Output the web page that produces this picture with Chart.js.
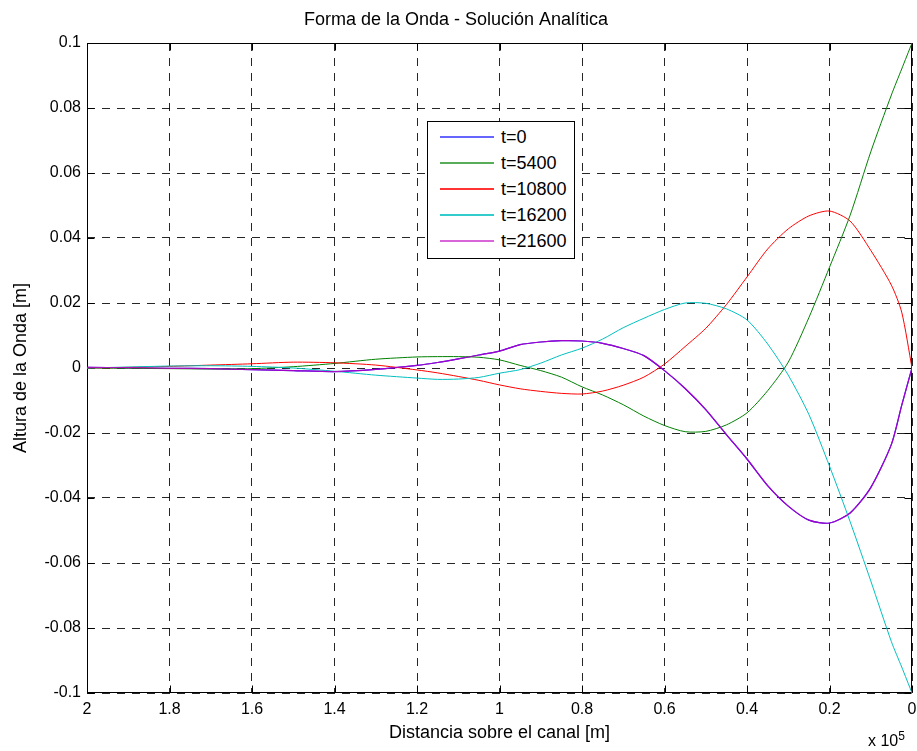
<!DOCTYPE html>
<html>
<head>
<meta charset="utf-8">
<script src="https://cdn.jsdelivr.net/npm/chart.js@4/dist/chart.umd.min.js"></script>
<style>
  body { margin: 0; background: #fff; }
  #wrap { position: relative; width: 917px; height: 751px; font-family: "Liberation Sans", Arial, sans-serif; }
  #legend {
    position: absolute; left: 427px; top: 121px; width: 146px; height: 134px;
    border: 1px solid #000; background: #fff; padding-top: 2px; box-sizing: content-box;
  }
  .row { position: relative; height: 26px; font-size: 18px; }
  .row .swatch { position: absolute; display: block; left: 12px; top: 12px; width: 54px; height: 2px; }
  .row .lbl { position: absolute; left: 73px; top: 2px; line-height: 22px; }
  #scale { position: absolute; left: 868px; top: 732px; font-size: 16px; }
  #scale sup { font-size: 12px; position: relative; top: -3px; vertical-align: top; }
</style>
</head>
<body>
<div id="wrap">
  <canvas id="c" width="917" height="751"></canvas>
  <div id="legend"></div>
  <div id="scale">x 10<sup>5</sup></div>
</div>
<script>
// distancia sobre el canal, en unidades de 10^5 m
const distance = [0, 0.025, 0.05, 0.1, 0.15, 0.2, 0.25, 0.3, 0.35, 0.4, 0.45, 0.5, 0.55, 0.6, 0.65, 0.7, 0.75,
  0.8, 0.85, 0.9, 0.95, 1.0, 1.05, 1.1, 1.15, 1.2, 1.3, 1.4, 1.5, 1.6, 1.7, 1.8, 1.9, 2.0];

// alturas de la onda [m]
const heightT0 = [0, -0.0115, -0.0235, -0.0368, -0.0446, -0.0477, -0.0468, -0.0425, -0.0362, -0.028, -0.0205,
  -0.0128, -0.0063, -0.0008, 0.0038, 0.006, 0.0076, 0.0083, 0.0084, 0.008, 0.0072, 0.0052, 0.004,
  0.0028, 0.0017, 0.0008, -0.0004, -0.0011, -0.0008, -0.0005, -0.0002, -0.0001, 0.0001, 0.0002];
const heightT5400 = [0.1, 0.092, 0.084, 0.0665, 0.047, 0.031, 0.0155, 0.0018, -0.007, -0.0138, -0.0175,
  -0.0195, -0.0196, -0.0177, -0.0148, -0.0113, -0.0083, -0.0058, -0.0028, -0.0008, 0.0008, 0.0025, 0.0033,
  0.0035, 0.0035, 0.0034, 0.0027, 0.0014, 0.0004, -0.0002, -0.0003, -0.0002, -0.0001, 0];
const heightT10800 = [0, 0.0172, 0.0255, 0.0362, 0.0452, 0.0483, 0.0468, 0.0428, 0.0366, 0.028, 0.0195,
  0.0122, 0.0066, 0.0012, -0.0028, -0.0053, -0.0071, -0.008, -0.0078, -0.0072, -0.0064, -0.0052, -0.0038,
  -0.0026, -0.0015, -0.0006, 0.0009, 0.0016, 0.0018, 0.0013, 0.0009, 0.0005, 0.0002, 0];
const heightT16200 = [-0.1, -0.092, -0.0842, -0.0655, -0.0473, -0.0302, -0.0143, -0.0022, 0.0074, 0.0148, 0.0182,
  0.0199, 0.02, 0.018, 0.0153, 0.0124, 0.0089, 0.0061, 0.004, 0.0015, -0.0005, -0.0016, -0.0029,
  -0.0034, -0.0035, -0.0031, -0.0022, -0.001, 0, 0.0005, 0.0007, 0.0006, 0.0003, 0];
const heightT21600 = [0, -0.0115, -0.0235, -0.0368, -0.0446, -0.0477, -0.0468, -0.0425, -0.0362, -0.028, -0.0205,
  -0.0128, -0.0063, -0.0008, 0.0038, 0.006, 0.0076, 0.0083, 0.0084, 0.008, 0.0072, 0.0052, 0.004,
  0.0028, 0.0017, 0.0008, -0.0004, -0.0011, -0.0008, -0.0005, -0.0002, -0.0001, 0.0001, 0.0002];

const seriesNames = ['t=0', 't=5400', 't=10800', 't=16200', 't=21600'];
const seriesColors = ['rgba(0,0,255,0.6)', 'rgba(0,128,0,0.65)', 'rgba(255,0,0,0.8)', 'rgba(0,191,191,0.8)', 'rgba(191,0,191,0.6)'];

const xTickValues = [0, 0.2, 0.4, 0.6, 0.8, 1, 1.2, 1.4, 1.6, 1.8, 2];
const xTickLabels = ['0', '0.2', '0.4', '0.6', '0.8', '1', '1.2', '1.4', '1.6', '1.8', '2'];
const yTickValues = [-0.1, -0.08, -0.06, -0.04, -0.02, 0, 0.02, 0.04, 0.06, 0.08, 0.1];
const yTickLabels = ['-0.1', '-0.08', '-0.06', '-0.04', '-0.02', '0', '0.02', '0.04', '0.06', '0.08', '0.1'];

const FONT = '"Liberation Sans", Arial, sans-serif';

function labelFor(values, labels, v) {
  let best = 0;
  values.forEach((t, i) => { if (Math.abs(t - v) < Math.abs(values[best] - v)) best = i; });
  return labels[best];
}

function toPoints(heights) {
  return distance.map((d, i) => ({ x: d, y: heights[i] }));
}

// caja de ejes y marcas hacia dentro, estilo MATLAB
const axesBox = {
  id: 'axesBox',
  beforeDatasetsDraw(chart) {
    const { ctx, chartArea: a, scales: { x, y } } = chart;
    const L = Math.round(a.left) + 0.5, R = Math.round(a.right) - 0.5;
    const T = Math.round(a.top) + 0.5, B = Math.round(a.bottom) - 0.5;
    ctx.save();
    ctx.strokeStyle = '#000';
    ctx.lineWidth = 1;
    ctx.strokeRect(L, T, R - L, B - T);
    ctx.beginPath();
    xTickValues.forEach(v => {
      const px = Math.round(x.getPixelForValue(v)) + 0.5;
      ctx.moveTo(px, B); ctx.lineTo(px, B - 7);
      ctx.moveTo(px, T); ctx.lineTo(px, T + 7);
    });
    yTickValues.forEach(v => {
      const py = Math.round(y.getPixelForValue(v)) + 0.5;
      ctx.moveTo(L, py); ctx.lineTo(L + 7, py);
      ctx.moveTo(R, py); ctx.lineTo(R - 7, py);
    });
    ctx.stroke();
    ctx.restore();
  }
};

const allHeights = [heightT0, heightT5400, heightT10800, heightT16200, heightT21600];
const drawOrder = [4, 3, 2, 1, 0];   // lower order is drawn on top
const lineColors = ['#0000ff', '#008000', '#ff0000', '#00bfbf', 'rgba(191, 0, 191, 0.85)'];
const lineWidths = [1.2, 1, 1, 1, 1.2];

const datasets = seriesNames.map((name, i) => ({
  label: name,
  data: toPoints(allHeights[i]),
  borderColor: lineColors[i],
  borderWidth: lineWidths[i],
  pointRadius: 0,
  fill: false,
  tension: 0.25,
  order: drawOrder[i]
}));

Chart.defaults.color = '#000';
Chart.defaults.font.family = FONT;

new Chart(document.getElementById('c'), {
  type: 'line',
  data: { datasets },
  options: {
    responsive: false,
    animation: false,
    devicePixelRatio: 1,
    layout: { padding: { left: 0, right: 5, top: 0, bottom: 0 } },
    plugins: {
      legend: { display: false },
      tooltip: { enabled: false },
      title: {
        display: true,
        text: 'Forma de la Onda - Solución Analítica',
        color: '#000',
        font: { family: FONT, size: 18, weight: 'normal' },
        padding: { top: 9, bottom: 12.4 }
      }
    },
    scales: {
      x: {
        type: 'linear',
        reverse: true,
        min: 0,
        max: 2,
        afterBuildTicks: s => { s.ticks = xTickValues.map(v => ({ value: v })); },
        afterFit: s => { s.height = 58; },
        grid: { color: 'rgba(0,0,0,0.85)', lineWidth: 1, drawTicks: false },
        border: { display: false, dash: [8, 7] },
        ticks: {
          padding: 7,
          maxRotation: 0,
          font: { family: FONT, size: 16 },
          callback: v => labelFor(xTickValues, xTickLabels, v)
        },
        title: {
          display: true,
          text: 'Distancia sobre el canal [m]',
          font: { family: FONT, size: 18 },
          padding: { top: 0, bottom: 7 }
        }
      },
      y: {
        type: 'linear',
        min: -0.1,
        max: 0.1,
        afterBuildTicks: s => { s.ticks = yTickValues.map(v => ({ value: v })); },
        afterFit: s => { s.width = 87; },
        grid: { color: 'rgba(0,0,0,0.85)', lineWidth: 1, drawTicks: false },
        border: { display: false, dash: [8, 7] },
        ticks: {
          padding: 6,
          font: { family: FONT, size: 16 },
          callback: v => labelFor(yTickValues, yTickLabels, v)
        },
        title: {
          display: true,
          text: 'Altura de la Onda [m]',
          font: { family: FONT, size: 18 },
          padding: { top: 10, bottom: 0 }
        }
      }
    }
  },
  plugins: [axesBox]
});

// leyenda dentro del área de la gráfica
const legend = document.getElementById('legend');
seriesNames.forEach((name, i) => {
  const row = document.createElement('div');
  row.className = 'row';
  row.innerHTML = '<span class="swatch" style="background:' + seriesColors[i] + '"></span>' +
    '<span class="lbl">' + name + '</span>';
  legend.appendChild(row);
});
</script>
</body>
</html>
